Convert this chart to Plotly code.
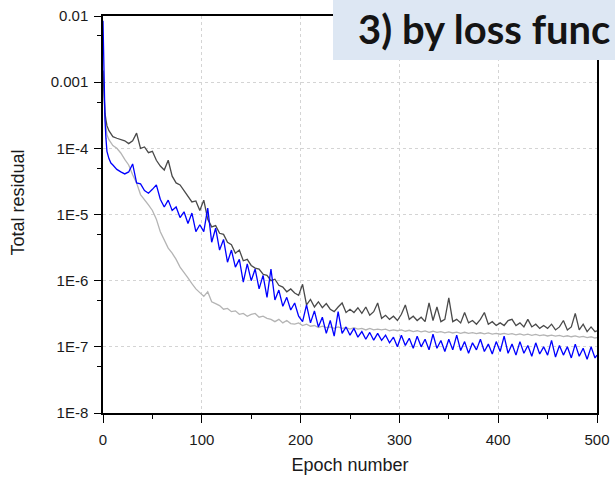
import plotly.graph_objects as go

# Epochs at which the residuals are plotted
epochs = [0, 1, 2, 3, 4, 6, 8, 10] + list(range(14, 499, 4)) + [500]

# Total residual per epoch, one list per loss-function variant
dark_residual = [
    1.5e-3, 5.0e-4, 3.4e-4, 2.7e-4, 2.2e-4, 1.85e-4, 1.65e-4, 1.5e-4,
    1.42e-4, 1.36e-4, 1.3e-4, 1.18e-4, 1.3e-4, 1.7e-4, 1.0e-4, 1.05e-4, 8.6e-5, 9.0e-5,
    6.6e-5, 5.4e-5, 4.7e-5, 6.6e-5, 3.8e-5, 3.0e-5, 2.8e-5, 2.3e-5, 1.9e-5, 1.55e-5,
    1.6e-5, 1.15e-5, 1.65e-5, 8.5e-6, 6.5e-6, 6.8e-6, 5.2e-6, 5.0e-6, 3.8e-6, 3.5e-6,
    2.6e-6, 2.9e-6, 2.0e-6, 2.1e-6, 1.7e-6, 1.55e-6, 1.5e-6, 1.25e-6, 1.2e-6, 1.0e-6,
    1.05e-6, 8.5e-7, 8.0e-7, 6.8e-7, 7.5e-7, 6.5e-7, 6.0e-7, 8.8e-7, 4.3e-7, 5.2e-7,
    4.0e-7, 4.8e-7, 3.9e-7, 4.5e-7, 3.7e-7, 3.4e-7, 4.0e-7, 4.6e-7, 3.3e-7, 3.7e-7,
    3.3e-7, 3.9e-7, 3.2e-7, 4.0e-7, 3.0e-7, 3.4e-7, 4.6e-7, 2.7e-7, 3.0e-7, 2.6e-7,
    2.9e-7, 2.5e-7, 3.1e-7, 4.3e-7, 2.6e-7, 2.9e-7, 2.5e-7, 2.8e-7, 2.4e-7, 4.6e-7,
    2.5e-7, 4.0e-7, 2.4e-7, 2.6e-7, 5.5e-7, 2.4e-7, 2.6e-7, 2.3e-7, 3.3e-7, 2.3e-7,
    2.5e-7, 2.2e-7, 2.6e-7, 3.3e-7, 2.2e-7, 2.4e-7, 2.1e-7, 2.3e-7, 2.1e-7, 2.5e-7,
    2.6e-7, 2.1e-7, 2.3e-7, 2.0e-7, 2.6e-7, 2.0e-7, 2.2e-7, 1.9e-7, 2.1e-7, 1.9e-7,
    2.2e-7, 1.8e-7, 2.0e-7, 2.5e-7, 1.8e-7, 2.0e-7, 3.2e-7, 1.8e-7, 2.2e-7, 1.7e-7,
    2.0e-7, 1.7e-7,
    1.75e-7,
]

light_residual = [
    1.5e-3, 4.5e-4, 3.0e-4, 2.2e-4, 1.6e-4, 1.35e-4, 1.2e-4, 1.1e-4,
    1.0e-4, 8.5e-5, 6.8e-5, 5.6e-5, 4.0e-5, 3.0e-5, 2.0e-5, 1.7e-5, 1.4e-5, 1.15e-5,
    8.5e-6, 5.5e-6, 4.0e-6, 3.1e-6, 2.6e-6, 2.1e-6, 1.6e-6, 1.35e-6, 1.1e-6, 9.0e-7,
    7.5e-7, 6.6e-7, 5.8e-7, 6.8e-7, 4.8e-7, 4.5e-7, 4.2e-7, 3.7e-7, 3.8e-7, 3.4e-7,
    3.5e-7, 3.1e-7, 3.2e-7, 2.9e-7, 3.1e-7, 3.2e-7, 2.8e-7, 2.9e-7, 2.7e-7, 2.6e-7,
    2.4e-7, 2.6e-7, 2.3e-7, 2.5e-7, 2.25e-7, 2.2e-7, 2.3e-7, 2.1e-7, 2.2e-7, 2.05e-7,
    2.1e-7, 1.95e-7, 2.05e-7, 1.95e-7, 2.0e-7, 1.9e-7, 2.0e-7, 1.9e-7, 1.95e-7, 1.85e-7,
    1.95e-7, 1.85e-7, 1.9e-7, 1.8e-7, 1.9e-7, 1.8e-7, 1.85e-7, 1.8e-7, 1.85e-7, 1.75e-7,
    1.8e-7, 1.75e-7, 1.8e-7, 1.72e-7, 1.78e-7, 1.7e-7, 1.75e-7, 1.68e-7, 1.74e-7, 1.66e-7,
    1.72e-7, 1.65e-7, 1.7e-7, 1.63e-7, 1.68e-7, 1.62e-7, 1.67e-7, 1.6e-7, 1.66e-7, 1.6e-7,
    1.64e-7, 1.58e-7, 1.63e-7, 1.57e-7, 1.62e-7, 1.56e-7, 1.6e-7, 1.55e-7, 1.6e-7, 1.54e-7,
    1.58e-7, 1.52e-7, 1.57e-7, 1.5e-7, 1.55e-7, 1.49e-7, 1.54e-7, 1.48e-7, 1.52e-7, 1.46e-7,
    1.5e-7, 1.45e-7, 1.49e-7, 1.43e-7, 1.47e-7, 1.42e-7, 1.46e-7, 1.4e-7, 1.44e-7, 1.38e-7,
    1.42e-7, 1.36e-7,
    1.38e-7,
]

blue_residual = [
    8.5e-3, 1.0e-3, 2.7e-4, 1.4e-4, 9.0e-5, 7.0e-5, 6.0e-5, 5.6e-5,
    4.8e-5, 4.4e-5, 4.1e-5, 4.4e-5, 5.8e-5, 3.0e-5, 2.9e-5, 2.3e-5, 2.1e-5, 2.4e-5,
    2.8e-5, 1.7e-5, 1.3e-5, 1.65e-5, 1.15e-5, 1.3e-5, 9.0e-6, 1.1e-5, 7.3e-6, 1.05e-5,
    5.5e-6, 7.0e-6, 5.5e-6, 1.25e-5, 3.8e-6, 6.2e-6, 2.9e-6, 4.2e-6, 1.9e-6, 2.9e-6,
    1.6e-6, 2.1e-6, 9.5e-7, 1.8e-6, 1.0e-6, 1.5e-6, 7.5e-7, 1.2e-6, 5.6e-7, 1.5e-6,
    5.1e-7, 7.2e-7, 4.1e-7, 5.6e-7, 3.6e-7, 4.6e-7, 2.9e-7, 2.4e-7, 4.3e-7, 2.3e-7,
    3.5e-7, 2.0e-7, 2.8e-7, 1.6e-7, 2.5e-7, 1.45e-7, 3.4e-7, 1.6e-7, 2.0e-7, 1.5e-7,
    1.9e-7, 1.4e-7, 1.7e-7, 1.3e-7, 1.65e-7, 1.26e-7, 1.6e-7, 1.25e-7, 1.5e-7, 1.15e-7,
    1.4e-7, 1.0e-7, 1.5e-7, 1.05e-7, 1.35e-7, 9.5e-8, 1.45e-7, 1.0e-7, 1.3e-7, 9.0e-8,
    1.55e-7, 9.5e-8, 1.25e-7, 8.5e-8, 1.3e-7, 9.0e-8, 1.5e-7, 8.8e-8, 1.2e-7, 8.0e-8,
    1.15e-7, 9.0e-8, 1.3e-7, 8.5e-8, 1.1e-7, 7.8e-8, 1.2e-7, 8.5e-8, 1.45e-7, 8.0e-8,
    1.1e-7, 7.5e-8, 1.2e-7, 8.0e-8, 1.05e-7, 7.2e-8, 1.15e-7, 7.8e-8, 1.0e-7, 7.5e-8,
    1.25e-7, 7.0e-8, 1.05e-7, 7.5e-8, 1.0e-7, 6.8e-8, 1.1e-7, 7.2e-8, 9.5e-8, 6.5e-8,
    1.0e-7, 6.8e-8,
    7.5e-8,
]

assert len(epochs) == len(dark_residual) == len(light_residual) == len(blue_residual)

x_tick_vals = [0, 100, 200, 300, 400, 500]
y_tick_vals = [1e-8, 1e-7, 1e-6, 1e-5, 1e-4, 1e-3, 1e-2]
y_tick_text = ["1E-8", "1E-7", "1E-6", "1E-5", "1E-4", "0.001", "0.01"]
y_minor_vals = [5e-8, 5e-7, 5e-6, 5e-5, 5e-4, 5e-3]

panel_title = "3) by loss func"

fig = go.Figure()
fig.add_trace(go.Scatter(x=epochs, y=light_residual, mode="lines",
                         line=dict(color="#b4b4b4", width=1.3)))
fig.add_trace(go.Scatter(x=epochs, y=dark_residual, mode="lines",
                         line=dict(color="#4a4a4a", width=1.3)))
fig.add_trace(go.Scatter(x=epochs, y=blue_residual, mode="lines",
                         line=dict(color="#0000ff", width=1.3)))

axis_font = dict(family="Liberation Sans, Arial, sans-serif", size=15, color="#1a1a1a")
title_font = dict(family="Liberation Sans, Arial, sans-serif", size=18, color="#1a1a1a")

fig.update_xaxes(
    range=[0, 500], tickvals=x_tick_vals, ticks="outside", ticklen=8,
    tickwidth=1.3, tickcolor="black", ticklabelstandoff=4,
    minor=dict(dtick=50, tick0=0, ticks="outside", ticklen=4, tickcolor="black",
               tickwidth=1.3, showgrid=False),
    showline=True, linecolor="black", linewidth=1.5, mirror=True,
    showgrid=True, gridcolor="#d4d4d4", griddash="dot", gridwidth=1,
    zeroline=False, tickfont=axis_font, automargin=False,
    title=dict(text="Epoch number", font=title_font, standoff=12),
)
fig.update_yaxes(
    type="log", range=[-8, -2], tickvals=y_tick_vals, ticktext=y_tick_text,
    ticks="outside", ticklen=7, tickwidth=1.3, tickcolor="black", ticklabelstandoff=3,
    minor=dict(tickvals=y_minor_vals, ticks="outside", ticklen=4, tickcolor="black",
               tickwidth=1.3, showgrid=False),
    showline=True, linecolor="black", linewidth=1.5, mirror=True,
    showgrid=True, gridcolor="#d4d4d4", griddash="dot", gridwidth=1,
    zeroline=False, tickfont=axis_font, automargin=False,
)

# Y-axis title, placed slightly above the plot's vertical centre
fig.add_annotation(text="Total residual", xref="paper", yref="paper",
                   x=-0.172, y=0.53, xanchor="center", yanchor="middle",
                   textangle=-90, showarrow=False, font=title_font)

# Panel heading box in the top-right corner
fig.add_shape(type="rect", xref="paper", yref="paper",
              x0=0.4656, x1=1.04, y0=0.889, y1=1.05,
              fillcolor="#dde7f3", line=dict(width=0), layer="above")
fig.add_annotation(text="<b>" + panel_title + "</b>", xref="paper", yref="paper",
                   x=0.5115, y=0.968, xanchor="left", yanchor="middle",
                   showarrow=False,
                   font=dict(family="Lato, Open Sans, sans-serif", size=40, color="#141414"))

fig.update_layout(
    width=615, height=477,
    margin=dict(l=103, r=18, t=16, b=64, autoexpand=False),
    paper_bgcolor="white", plot_bgcolor="white",
    showlegend=False,
)

fig.write_html("out.html")
